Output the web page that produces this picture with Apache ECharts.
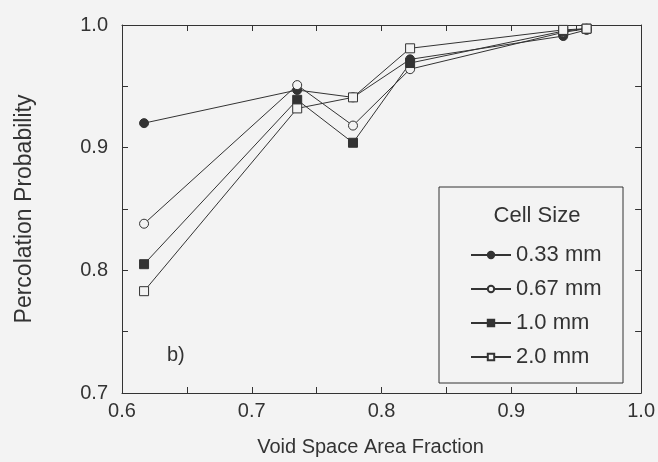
<!DOCTYPE html>
<html>
<head>
<meta charset="utf-8">
<script src="https://cdn.jsdelivr.net/npm/echarts@6/dist/echarts.min.js"></script>
<style>
  html, body { margin: 0; padding: 0; background: #f3f3f3; }
  #chart { width: 658px; height: 462px; }
</style>
</head>
<body>
<div id="chart"></div>
<script>
// void space area fraction (x) for each measurement
const voidFraction = [0.617, 0.735, 0.778, 0.822, 0.940, 0.958]

// percolation probability per cell size
const cell033 = [0.920, 0.947, 0.941, 0.972, 0.991, 0.996]
const cell067 = [0.838, 0.951, 0.918, 0.964, 0.994, 0.997]
const cell10 = [0.805, 0.939, 0.904, 0.969, 0.995, 0.997]
const cell20 = [0.783, 0.932, 0.941, 0.981, 0.996, 0.997]

const seriesNames = ['0.33 mm', '0.67 mm', '1.0 mm', '2.0 mm']

const ink = '#333'
const bg = '#f3f3f3'
const font = 'Liberation Sans, Arial, sans-serif'

function pairs(ys) {
  return ys.map((y, i) => [voidFraction[i], y])
}

// label only every 0.1, ticks stay at every 0.05
function tenths(v) {
  const k = Math.round(v * 100)
  return k % 10 === 0 ? (k / 100).toFixed(1) : ''
}

function makeSeries(name, ys, symbol, filled) {
  return {
    name,
    type: 'line',
    data: pairs(ys),
    symbol,
    symbolSize: 9,
    lineStyle: { color: ink, width: 1 },
    itemStyle: { color: filled ? ink : bg, borderColor: ink, borderWidth: 1 },
    emphasis: { disabled: true },
    animation: false
  }
}

const chart = echarts.init(document.getElementById('chart'))

const tickStyle = { inside: true, length: 6, lineStyle: { color: ink } }

chart.setOption({
  backgroundColor: bg,
  textStyle: { fontFamily: font, color: ink },
  grid: { left: 122, right: 16, top: 25, bottom: 65 },
  xAxis: [{
    type: 'value',
    min: 0.6,
    max: 1.0,
    interval: 0.05,
    name: 'Void Space Area Fraction',
    nameLocation: 'middle',
    nameGap: 44,
    nameTextStyle: { fontSize: 20, color: ink, padding: [0, 22, 0, 0] },
    axisLine: { lineStyle: { color: ink } },
    axisTick: tickStyle,
    axisLabel: { formatter: tenths, fontSize: 20, color: ink, margin: 8 },
    splitLine: { show: false }
  }, {
    type: 'value',
    position: 'top',
    min: 0.6,
    max: 1.0,
    interval: 0.05,
    axisLine: { show: true, lineStyle: { color: ink } },
    axisTick: tickStyle,
    axisLabel: { show: false },
    splitLine: { show: false }
  }],
  yAxis: [{
    type: 'value',
    min: 0.7,
    max: 1.0,
    interval: 0.05,
    name: 'Percolation Probability',
    nameLocation: 'middle',
    nameGap: 86,
    nameTextStyle: { fontSize: 23, color: ink },
    axisLine: { show: true, lineStyle: { color: ink } },
    axisTick: tickStyle,
    axisLabel: { formatter: tenths, fontSize: 20, color: ink, margin: 14 },
    splitLine: { show: false }
  }, {
    type: 'value',
    position: 'right',
    min: 0.7,
    max: 1.0,
    interval: 0.05,
    axisLine: { show: true, lineStyle: { color: ink } },
    axisTick: tickStyle,
    axisLabel: { show: false },
    splitLine: { show: false }
  }],
  legend: {
    data: seriesNames,
    orient: 'vertical',
    left: 470,
    top: 244,
    padding: 0,
    itemWidth: 40,
    itemHeight: 8,
    itemGap: 12,
    textStyle: { fontSize: 22, color: ink, fontFamily: font },
    selectedMode: false
  },
  graphic: [{
    type: 'rect',
    shape: { x: 439, y: 187, width: 184, height: 196 },
    style: { fill: 'none', stroke: ink, lineWidth: 1 }
  }, {
    type: 'text',
    x: 537,
    y: 216,
    style: { text: 'Cell Size', font: '22px ' + font, fill: ink, align: 'center', verticalAlign: 'middle' }
  }, {
    type: 'text',
    x: 167,
    y: 355,
    style: { text: 'b)', font: '20px ' + font, fill: ink, align: 'left', verticalAlign: 'middle' }
  }],
  series: [
    makeSeries(seriesNames[0], cell033, 'circle', true),
    makeSeries(seriesNames[1], cell067, 'circle', false),
    makeSeries(seriesNames[2], cell10, 'rect', true),
    makeSeries(seriesNames[3], cell20, 'rect', false)
  ]
})
</script>
</body>
</html>
